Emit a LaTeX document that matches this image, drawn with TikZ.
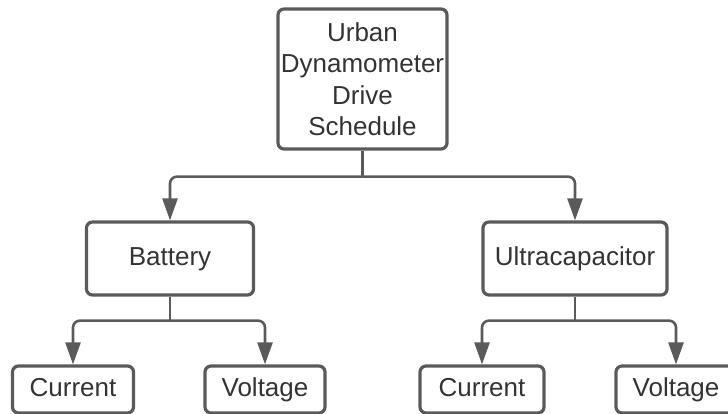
\documentclass[tikz,border=0pt]{standalone}
\usepackage{fontspec}
\setmainfont{Liberation Sans}
\usetikzlibrary{arrows.meta}
\definecolor{linegray}{HTML}{5A5A5A}
\definecolor{textgray}{HTML}{333333}

\begin{document}
\begin{tikzpicture}[x=1pt, y=-1pt,
    box/.style={draw=linegray, line width=3.2pt, rounded corners=6pt, text=textgray,
      font=\fontsize{26}{31.5}\selectfont, align=center, inner sep=0pt},
    onebox/.style={box, text height=19pt, text depth=6pt},
    link/.style={draw=linegray, line width=2.6pt, rounded corners=7pt},
    arr/.style={link, -{Triangle[width=15pt,length=22pt]}}]
        \useasboundingbox (0,0) rectangle (728,414);
        \node[box, minimum width=169pt, minimum height=140pt] (udds) at (362.5, 79) {Urban\\Dynamometer\\Drive\\Schedule};
        \node[onebox, minimum width=167pt, minimum height=73pt] (batt) at (170, 258.5) {Battery};
        \node[onebox, minimum width=184pt, minimum height=73pt] (ucap) at (575, 258.5) {Ultracapacitor};
        \node[onebox, minimum width=121pt, minimum height=47pt] (battcur) at (73, 389.5) {Current};
        \node[onebox, minimum width=120pt, minimum height=47pt] (battvolt) at (265, 389.5) {Voltage};
        \node[onebox, minimum width=124pt, minimum height=47pt] (ucapcur) at (482, 389.5) {Current};
        \node[onebox, minimum width=120pt, minimum height=47pt] (ucapvolt) at (676, 389.5) {Voltage};
        \draw[link] (udds.south) -- ++(0,26) coordinate (uddssplit);
        \draw[arr] (uddssplit) -| (batt.north);
        \draw[arr] (uddssplit) -| (ucap.north);
        \draw[link] (batt.south) -- ++(0,24) coordinate (battsplit);
        \draw[arr] (battsplit) -| (battcur.north);
        \draw[arr] (battsplit) -| (battvolt.north);
        \draw[link] (ucap.south) -- ++(0,24) coordinate (ucapsplit);
        \draw[arr] (ucapsplit) -| (ucapcur.north);
        \draw[arr] (ucapsplit) -| (ucapvolt.north);
      \end{tikzpicture}
\end{document}
